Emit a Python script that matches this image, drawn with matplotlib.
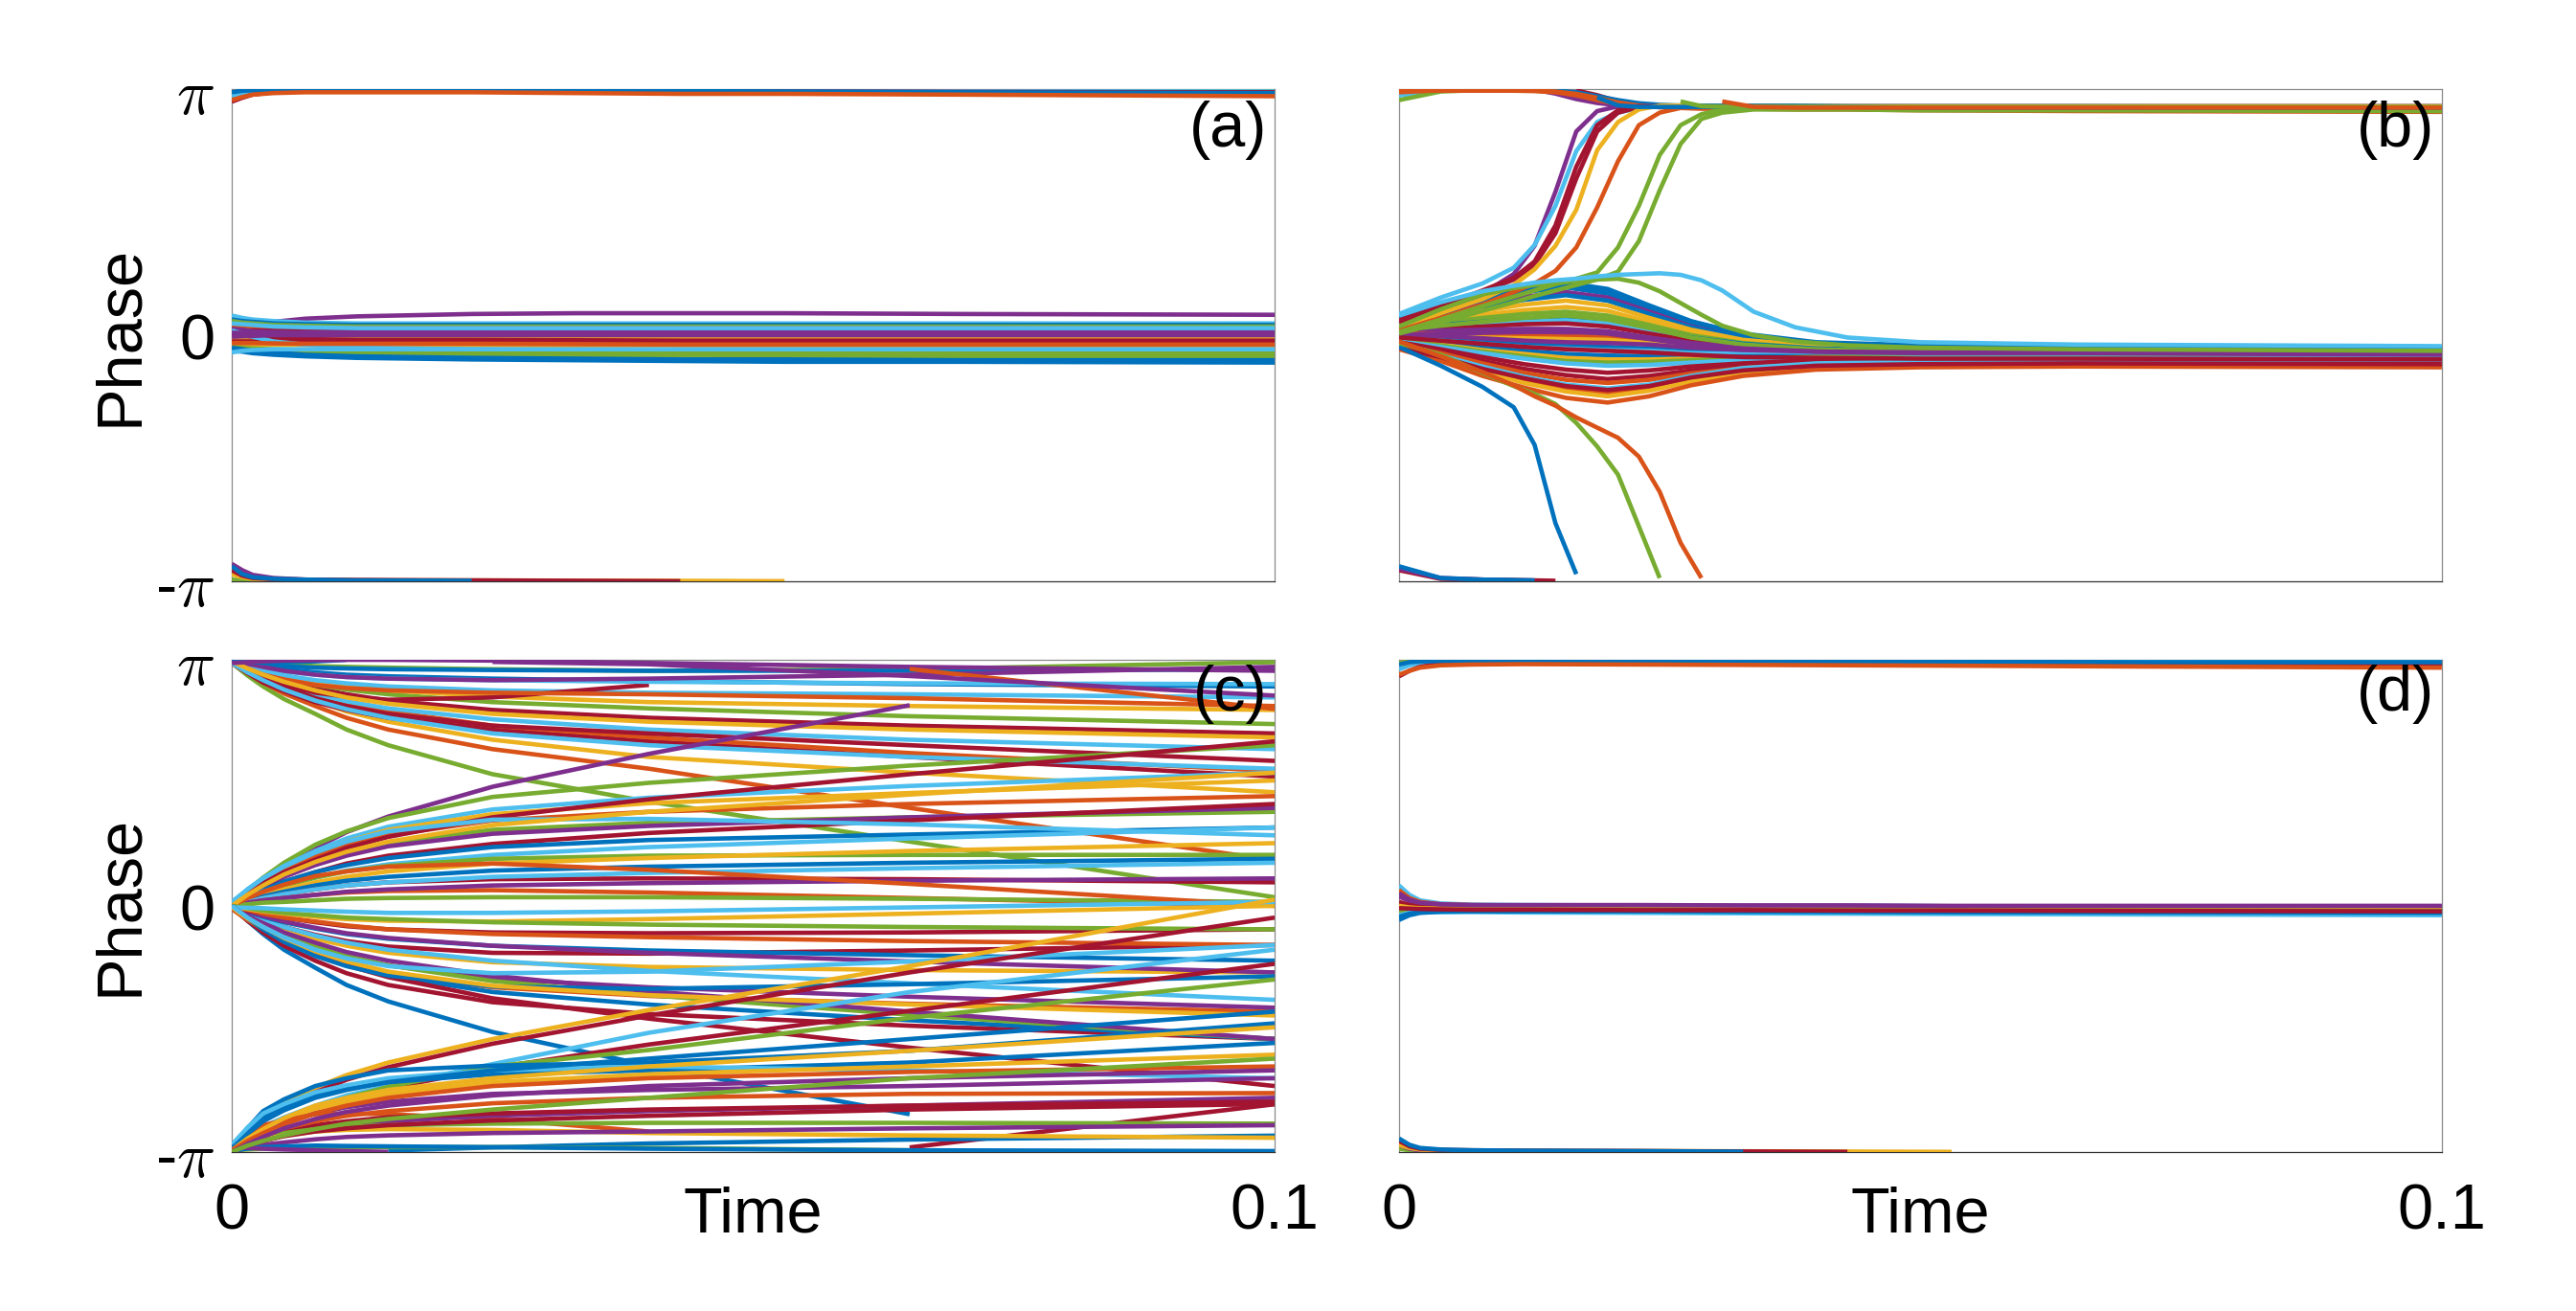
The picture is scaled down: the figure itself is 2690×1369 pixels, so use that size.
import numpy as np
import matplotlib
matplotlib.use("Agg")
import matplotlib.pyplot as plt

plt.rcParams['font.family'] = ['Liberation Sans', 'DejaVu Sans']
plt.rcParams['mathtext.fontset'] = 'cm'

# MATLAB default colour order: 0 blue, 1 orange, 2 yellow, 3 purple, 4 green, 5 light blue, 6 red
COLORS = ['#0072BD', '#D95319', '#EDB120', '#7E2F8E', '#77AC30', '#4DBEEE', '#A2142F']

PANEL_LABELS = ['(a)', '(b)', '(c)', '(d)']
X_TICKS = [0, 0.1]
X_TICKLABELS = ['0', '0.1']
Y_TICKS = [-np.pi, 0, np.pi]
Y_TICKLABELS = ['-$\\pi$', '0', '$\\pi$']
X_LABEL = 'Time'
Y_LABEL = 'Phase'

# ---------------- panel (a) ----------------
T_A = [0, 0.001, 0.002, 0.004, 0.007, 0.012, 0.023, 0.033, 0.043, 0.053, 0.07, 0.1]
A_PHASES = [
    [0.10, 0.12, 0.14, 0.17, 0.21, 0.24, 0.27, 0.28, 0.28, 0.28, 0.27, 0.26],
    [0.25, 0.22, 0.20, 0.18, 0.16, 0.15, 0.15, 0.15, 0.15, 0.15, 0.15, 0.15],
    [0.20, 0.18, 0.17, 0.15, 0.14, 0.13, 0.13, 0.13, 0.13, 0.13, 0.13, 0.13],
    [0.18, 0.16, 0.15, 0.13, 0.12, 0.11, 0.11, 0.11, 0.11, 0.11, 0.11, 0.11],
    [0.12, 0.11, 0.10, 0.09, 0.09, 0.09, 0.09, 0.09, 0.09, 0.09, 0.09, 0.08],
    [0.05, 0.05, 0.06, 0.06, 0.07, 0.07, 0.07, 0.07, 0.07, 0.07, 0.06, 0.06],
    [0.00, 0.01, 0.02, 0.03, 0.035, 0.04, 0.04, 0.04, 0.04, 0.04, 0.04, 0.04],
    [0.08, 0.07, 0.05, 0.04, 0.03, 0.02, 0.02, 0.02, 0.02, 0.01, 0.01, 0.01],
    [-0.05, -0.045, -0.04, -0.035, -0.03, -0.03, -0.03, -0.03, -0.03, -0.03, -0.03, -0.03],
    [0.02, 0.0, -0.02, -0.04, -0.05, -0.06, -0.06, -0.065, -0.07, -0.07, -0.07, -0.07],
    [-0.08, -0.08, -0.08, -0.085, -0.09, -0.09, -0.09, -0.09, -0.095, -0.1, -0.1, -0.1],
    [-0.12, -0.12, -0.12, -0.12, -0.125, -0.13, -0.13, -0.135, -0.14, -0.14, -0.14, -0.14],
    [0.06, 0.02, -0.02, -0.08, -0.12, -0.16, -0.18, -0.19, -0.19, -0.2, -0.2, -0.2],
    [-0.15, -0.16, -0.17, -0.18, -0.19, -0.2, -0.21, -0.22, -0.22, -0.22, -0.23, -0.23],
    [-0.18, -0.19, -0.2, -0.21, -0.22, -0.24, -0.25, -0.26, -0.26, -0.27, -0.27, -0.28],
    [-0.16, -0.18, -0.2, -0.22, -0.25, -0.27, -0.29, -0.3, -0.31, -0.31, -0.32, -0.32],
    [-0.2, -0.21, -0.23, -0.25, -0.27, -0.29, -0.31, -0.32, -0.33, -0.34, -0.34, -0.35],
    [-0.1, -0.1, -0.1, -0.105, -0.11, -0.11, -0.11, -0.115, -0.12, -0.12, -0.12, -0.12],
    [0.15, 0.14, 0.13, 0.11, 0.10, 0.09, 0.09, 0.09, 0.09, 0.09, 0.09, 0.09],
    [-0.02, -0.015, -0.01, 0.0, 0.0, 0.0, 0.0, 0.0, 0.0, 0.0, 0.0, 0.0],
    [0.03, 0.03, 0.02, 0.02, 0.02, 0.02, 0.02, 0.02, 0.02, 0.02, 0.02, 0.02],
    [-0.22, -0.2, -0.19, -0.18, -0.18, -0.18, -0.18, -0.18, -0.18, -0.18, -0.18, -0.18],
    # lines near -pi (drift through -pi and re-enter at +pi)
    [-3.12, -3.13, -3.135, -3.14, -3.145, -3.15, -3.155, -3.16, -3.16, -3.165, -3.17, -3.18],
    [-2.97, -3.05, -3.09, -3.12, -3.13, -3.14, -3.15, -3.16, -3.17, -3.175, -3.18, -3.19],
    [-2.92, -3.0, -3.06, -3.1, -3.12, -3.13, -3.14, -3.145, -3.15, -3.155, -3.16, -3.17],
    [-3.05, -3.09, -3.11, -3.12, -3.125, -3.128, -3.13, -3.133, -3.136, -3.14, -3.145, -3.16],
    [-3.0, -3.07, -3.1, -3.115, -3.12, -3.125, -3.13, -3.135, -3.14, -3.145, -3.155, -3.17],
    [-2.95, -3.05, -3.09, -3.11, -3.12, -3.13, -3.135, -3.15, -3.16, -3.17, -3.18, -3.2],
    # lines near +pi
    [3.08, 3.11, 3.13, 3.135, 3.135, 3.135, 3.135, 3.135, 3.13, 3.13, 3.13, 3.13],
    [3.05, 3.09, 3.11, 3.12, 3.125, 3.125, 3.125, 3.12, 3.12, 3.12, 3.115, 3.11],
    [2.98, 3.03, 3.07, 3.1, 3.11, 3.115, 3.115, 3.115, 3.11, 3.11, 3.105, 3.1],
    [3.1, 3.12, 3.125, 3.13, 3.13, 3.13, 3.125, 3.12, 3.115, 3.11, 3.1, 3.09],
    [3.0, 3.04, 3.07, 3.09, 3.1, 3.1, 3.1, 3.09, 3.08, 3.08, 3.07, 3.05],
]
A_COLORS = [3, 5, 0, 4, 1, 6, 3, 3, 2, 6, 6, 2, 5, 4, 4, 0, 0, 1, 5, 3, 3, 5,
            4, 1, 3, 2, 6, 0,
            4, 5, 6, 0, 1]

# ---------------- panel (b) ----------------
T_B_MAIN = [0, 0.004, 0.008, 0.012, 0.016, 0.02, 0.024, 0.028, 0.033, 0.04, 0.05, 0.065, 0.1]
B_MAIN_PHASES = [
    [0.2, 0.34, 0.48, 0.60, 0.67, 0.59, 0.38, 0.18, 0.01, -0.10, -0.14, -0.15, -0.17],
    [0.18, 0.31, 0.44, 0.55, 0.61, 0.53, 0.34, 0.15, -0.01, -0.11, -0.15, -0.16, -0.18],
    [0.15, 0.27, 0.39, 0.49, 0.55, 0.48, 0.30, 0.12, -0.03, -0.13, -0.16, -0.17, -0.19],
    [0.14, 0.25, 0.36, 0.45, 0.51, 0.44, 0.27, 0.10, -0.03, -0.13, -0.16, -0.17, -0.19],
    [0.12, 0.22, 0.31, 0.39, 0.44, 0.38, 0.22, 0.07, -0.06, -0.14, -0.17, -0.18, -0.2],
    [0.1, 0.18, 0.26, 0.32, 0.36, 0.31, 0.17, 0.03, -0.08, -0.16, -0.18, -0.19, -0.21],
    [0.1, 0.16, 0.22, 0.27, 0.30, 0.25, 0.13, 0.0, -0.1, -0.17, -0.2, -0.2, -0.22],
    [0.08, 0.13, 0.17, 0.21, 0.23, 0.19, 0.08, -0.03, -0.11, -0.17, -0.2, -0.2, -0.22],
    [0.07, 0.11, 0.14, 0.17, 0.19, 0.15, 0.05, -0.05, -0.13, -0.19, -0.21, -0.21, -0.23],
    [0.05, 0.08, 0.11, 0.14, 0.15, 0.11, 0.02, -0.07, -0.15, -0.2, -0.22, -0.22, -0.24],
    [0.05, 0.06, 0.07, 0.08, 0.08, 0.05, -0.03, -0.1, -0.16, -0.2, -0.22, -0.22, -0.24],
    [0.03, 0.03, 0.02, 0.02, 0.02, -0.005, -0.07, -0.13, -0.18, -0.22, -0.23, -0.23, -0.25],
    [0.02, 0.01, 0.0, -0.01, -0.02, -0.02, -0.06, -0.13, -0.19, -0.22, -0.24, -0.24, -0.26],
    [0.0, -0.01, -0.03, -0.04, -0.05, -0.06, -0.10, -0.15, -0.2, -0.23, -0.24, -0.24, -0.26],
    [-0.02, -0.05, -0.08, -0.11, -0.13, -0.15, -0.17, -0.2, -0.23, -0.24, -0.25, -0.25, -0.27],
    [-0.04, -0.07, -0.11, -0.15, -0.17, -0.19, -0.2, -0.23, -0.24, -0.25, -0.26, -0.26, -0.27],
    [-0.05, -0.1, -0.16, -0.2, -0.24, -0.26, -0.27, -0.27, -0.27, -0.27, -0.27, -0.27, -0.28],
    [-0.06, -0.12, -0.19, -0.24, -0.29, -0.31, -0.31, -0.3, -0.29, -0.28, -0.28, -0.28, -0.29],
    [-0.07, -0.13, -0.21, -0.27, -0.33, -0.35, -0.34, -0.32, -0.3, -0.29, -0.28, -0.28, -0.29],
    [-0.08, -0.15, -0.23, -0.3, -0.36, -0.39, -0.38, -0.35, -0.32, -0.3, -0.29, -0.29, -0.3],
    [-0.09, -0.18, -0.28, -0.37, -0.44, -0.48, -0.45, -0.4, -0.36, -0.32, -0.31, -0.31, -0.32],
    [-0.1, -0.2, -0.33, -0.43, -0.51, -0.56, -0.52, -0.45, -0.39, -0.35, -0.33, -0.33, -0.34],
    [-0.12, -0.23, -0.36, -0.48, -0.57, -0.61, -0.57, -0.49, -0.42, -0.37, -0.36, -0.35, -0.36],
    [-0.13, -0.26, -0.4, -0.53, -0.63, -0.68, -0.63, -0.52, -0.42, -0.36, -0.34, -0.33, -0.34],
    [-0.14, -0.28, -0.44, -0.57, -0.69, -0.74, -0.68, -0.57, -0.48, -0.41, -0.39, -0.38, -0.39],
    [-0.15, -0.29, -0.46, -0.61, -0.72, -0.78, -0.71, -0.59, -0.48, -0.4, -0.38, -0.37, -0.38],
    [-0.18, -0.33, -0.52, -0.67, -0.8, -0.86, -0.78, -0.64, -0.52, -0.44, -0.41, -0.4, -0.41],
    [-0.16, -0.28, -0.43, -0.55, -0.65, -0.70, -0.65, -0.54, -0.45, -0.39, -0.37, -0.36, -0.37],
    [0.06, 0.12, 0.17, 0.22, 0.25, 0.20, 0.09, -0.03, -0.12, -0.18, -0.21, -0.21, -0.24],
    [0.0, 0.015, 0.03, 0.04, 0.05, 0.02, -0.05, -0.12, -0.17, -0.21, -0.23, -0.23, -0.25],
    [0.22, 0.35, 0.47, 0.58, 0.64, 0.56, 0.37, 0.17, 0.02, -0.09, -0.13, -0.14, -0.16],
    [0.01, -0.01, -0.04, -0.07, -0.09, -0.1, -0.12, -0.16, -0.19, -0.21, -0.22, -0.22, -0.24],
    [-0.03, -0.07, -0.11, -0.15, -0.18, -0.2, -0.22, -0.25, -0.28, -0.29, -0.3, -0.3, -0.31],
]
B_MAIN_COLORS = [0, 0, 3, 0, 2, 2, 4, 0, 5, 6, 3, 3, 1, 2, 0, 5, 0, 2, 4, 5, 6, 6, 1, 5, 1, 2,
                 1, 6, 4, 3, 0, 3, 6]

T_B_FAST = [0, 0.004, 0.008, 0.011, 0.013, 0.015, 0.017, 0.019, 0.021, 0.023,
            0.025, 0.027, 0.029, 0.031, 0.034, 0.038, 0.043, 0.05, 0.065, 0.1]
B_FAST_PHASES = [
    # lines near -pi at the start (cross -pi and join the upper group)
    [-3.0, -3.11, -3.12, -3.125, -3.13, -3.135, -3.16, -3.22, -3.3, -3.34, -3.36, -3.36, -3.36, -3.36, -3.36, -3.36, -3.36, -3.36, -3.36, -3.36],
    [-2.98, -3.1, -3.12, -3.13, -3.15, -3.2, -3.27, -3.32, -3.35, -3.36, -3.36, -3.37, -3.37, -3.37, -3.37, -3.37, -3.37, -3.37, -3.37, -3.37],
    [-2.95, -3.1, -3.12, -3.125, -3.13, -3.15, -3.2, -3.27, -3.32, -3.35, -3.36, -3.37, -3.37, -3.37, -3.37, -3.37, -3.37, -3.37, -3.37, -3.37],
    # lines near +pi at the start
    [3.06, 3.12, 3.13, 3.13, 3.125, 3.11, 3.07, 3.02, 2.97, 2.94, 2.93, 2.93, 2.93, 2.92, 2.92, 2.92, 2.92, 2.92, 2.92, 2.92],
    [3.0, 3.11, 3.13, 3.135, 3.13, 3.12, 3.09, 3.04, 2.99, 2.95, 2.93, 2.92, 2.92, 2.92, 2.92, 2.92, 2.91, 2.91, 2.91, 2.9],
    [3.13, 3.13, 3.13, 3.13, 3.13, 3.12, 3.1, 3.05, 3.0, 2.96, 2.94, 2.93, 2.93, 2.93, 2.93, 2.93, 2.92, 2.92, 2.92, 2.91],
    [3.1, 3.125, 3.13, 3.13, 3.12, 3.11, 3.08, 3.03, 2.97, 2.93, 2.91, 2.9, 2.89, 2.89, 2.89, 2.88, 2.88, 2.87, 2.86, 2.85],
    [3.12, 3.12, 3.12, 3.12, 3.115, 3.1, 3.06, 3.0, 2.95, 2.92, 2.91, 2.9, 2.9, 2.9, 2.9, 2.89, 2.89, 2.88, 2.87, 2.86],
    # lines leaving the cluster upwards
    [0.06, 0.30, 0.53, 0.78, 1.14, 1.83, 2.6, 2.86, 2.92, 2.92, 2.92, 2.91, 2.91, 2.91, 2.91, 2.91, 2.9, 2.9, 2.9, 2.9],
    [0.27, 0.48, 0.66, 0.86, 1.15, 1.65, 2.35, 2.72, 2.84, 2.9, 2.92, 2.92, 2.91, 2.91, 2.91, 2.91, 2.9, 2.9, 2.9, 2.89],
    [0.19, 0.37, 0.57, 0.73, 0.94, 1.4, 2.15, 2.68, 2.87, 2.92, 2.92, 2.92, 2.91, 2.91, 2.91, 2.91, 2.9, 2.9, 2.9, 2.9],
    [0.17, 0.35, 0.55, 0.71, 0.9, 1.3, 2.0, 2.6, 2.84, 2.91, 2.92, 2.92, 2.91, 2.91, 2.91, 2.9, 2.9, 2.9, 2.9, 2.9],
    [0.11, 0.28, 0.46, 0.64, 0.84, 1.14, 1.6, 2.36, 2.72, 2.88, 2.93, 2.93, 2.92, 2.92, 2.92, 2.92, 2.92, 2.92, 2.92, 2.92],
    [0.06, 0.22, 0.39, 0.55, 0.66, 0.82, 1.12, 1.63, 2.22, 2.68, 2.84, 2.9, 2.9, 2.9, 2.9, 2.89, 2.89, 2.89, 2.88, 2.88],
    [0.04, 0.2, 0.37, 0.49, 0.57, 0.65, 0.72, 0.8, 1.12, 1.65, 2.3, 2.68, 2.82, 2.88, 2.9, 2.9, 2.9, 2.89, 2.89, 2.88],
    [0.02, 0.16, 0.31, 0.42, 0.5, 0.57, 0.64, 0.71, 0.81, 1.2, 1.85, 2.44, 2.76, 2.84, 2.88, 2.88, 2.88, 2.87, 2.87, 2.86],
    # late returners
    [0.11, 0.33, 0.52, 0.60, 0.64, 0.66, 0.69, 0.71, 0.72, 0.67, 0.56, 0.41, 0.26, 0.12, 0.0, -0.08, -0.13, -0.16, -0.18, -0.2],
    [0.25, 0.42, 0.56, 0.63, 0.67, 0.70, 0.72, 0.75, 0.77, 0.78, 0.79, 0.77, 0.70, 0.57, 0.30, 0.10, -0.03, -0.09, -0.12, -0.14],
    # lines leaving the cluster downwards (cross -pi)
    [-0.15, -0.39, -0.66, -0.92, -1.4, -2.4, -3.05, -3.25, -3.35, -3.37, -3.37, -3.37, -3.37, -3.37, -3.37, -3.37, -3.37, -3.38, -3.38, -3.38],
    [-0.1, -0.25, -0.48, -0.65, -0.75, -0.88, -1.12, -1.42, -1.78, -2.44, -3.1, -3.3, -3.36, -3.37, -3.37, -3.37, -3.37, -3.37, -3.37, -3.37],
    [-0.08, -0.27, -0.47, -0.64, -0.78, -0.9, -1.05, -1.18, -1.31, -1.55, -2.0, -2.65, -3.1, -3.3, -3.37, -3.38, -3.38, -3.38, -3.38, -3.38],
]
B_FAST_COLORS = [6, 3, 0,
                 5, 4, 0, 1, 1,
                 3, 5, 6, 6, 2, 1, 4, 4,
                 4, 5,
                 0, 4, 1]

# ---------------- panel (c) ----------------
T_C = [0, 0.0015, 0.003, 0.005, 0.008, 0.011, 0.015, 0.025, 0.04, 0.065, 0.1]
C_PHASES = [
    # starting at +pi
    [3.1, 2.94, 2.8, 2.64, 2.45, 2.25, 2.05, 1.68, 1.33, 0.82, 0.11],
    [3.1, 2.97, 2.85, 2.71, 2.55, 2.4, 2.25, 2.0, 1.75, 1.25, 0.58],
    [3.12, 3.0, 2.9, 2.77, 2.62, 2.48, 2.35, 2.12, 1.9, 1.7, 1.45],
    [3.1, 2.97, 2.85, 2.74, 2.6, 2.5, 2.4, 2.25, 2.1, 1.9, 1.65],
    [3.12, 3.01, 2.92, 2.82, 2.7, 2.59, 2.48, 2.3, 2.15, 1.95, 1.72],
    [3.1, 2.99, 2.9, 2.81, 2.7, 2.61, 2.52, 2.38, 2.25, 2.12, 2.0],
    [3.1, 3.02, 2.95, 2.87, 2.78, 2.7, 2.62, 2.5, 2.4, 2.3, 2.2],
    [3.12, 3.04, 2.98, 2.91, 2.82, 2.76, 2.7, 2.6, 2.52, 2.42, 2.32],
    [3.12, 3.06, 3.0, 2.94, 2.86, 2.8, 2.75, 2.67, 2.6, 2.55, 2.5],
    [3.12, 3.06, 3.0, 2.94, 2.88, 2.84, 2.8, 2.75, 2.72, 2.7, 2.66],
    [3.12, 3.08, 3.05, 3.02, 2.98, 2.95, 2.93, 2.9, 2.87, 2.83, 2.8],
    [3.1, 2.99, 2.9, 2.82, 2.72, 2.67, 2.63, 2.66, 2.82, 3.2, 3.75],
    [3.14, 3.12, 3.1, 3.08, 3.06, 3.05, 3.04, 3.02, 3.0, 3.02, 3.11],
    [3.12, 3.07, 3.02, 2.99, 2.95, 2.92, 2.9, 2.88, 2.86, 2.84, 2.83],
    [3.13, 3.1, 3.08, 3.06, 3.04, 3.03, 3.02, 3.01, 3.0, 3.0, 3.02],
    [3.12, 3.03, 2.95, 2.89, 2.82, 2.78, 2.75, 2.72, 2.7, 2.65, 2.55],
    [3.14, 3.09, 3.05, 3.0, 2.95, 2.92, 2.9, 2.88, 2.9, 2.95, 3.05],
    [3.12, 3.0, 2.9, 2.79, 2.65, 2.55, 2.45, 2.3, 2.2, 2.05, 1.85],
    [3.1, 2.98, 2.88, 2.76, 2.62, 2.51, 2.4, 2.2, 2.05, 1.9, 1.75],
    [3.12, 3.03, 2.95, 2.86, 2.75, 2.66, 2.58, 2.45, 2.35, 2.25, 2.15],
    [3.14, 3.12, 3.1, 3.11, 3.12, 3.14, 3.16, 3.2, 3.25, 3.3, 3.35],
    [3.1, 3.11, 3.12, 3.13, 3.135, 3.14, 3.14, 3.13, 3.1, 3.05, 3.0],
    # starting at 0, moving up
    [0.0, 0.18, 0.33, 0.52, 0.74, 0.94, 1.14, 1.52, 1.94, 2.56, 3.4],
    [0.02, 0.2, 0.36, 0.55, 0.78, 0.95, 1.12, 1.39, 1.57, 1.79, 2.05],
    [0.05, 0.21, 0.35, 0.51, 0.70, 0.86, 1.01, 1.23, 1.38, 1.53, 1.7],
    [0.03, 0.19, 0.32, 0.48, 0.67, 0.82, 0.97, 1.17, 1.31, 1.44, 1.6],
    [0.0, 0.16, 0.30, 0.45, 0.63, 0.77, 0.90, 1.09, 1.2, 1.3, 1.4],
    [0.04, 0.17, 0.29, 0.42, 0.57, 0.69, 0.81, 0.97, 1.06, 1.13, 1.2],
    [0.0, 0.13, 0.24, 0.37, 0.52, 0.64, 0.76, 0.92, 1.02, 1.13, 1.25],
    [0.02, 0.12, 0.21, 0.31, 0.43, 0.54, 0.64, 0.79, 0.93, 1.09, 1.3],
    [0.0, 0.11, 0.2, 0.31, 0.43, 0.52, 0.61, 0.75, 0.84, 0.91, 1.0],
    [0.03, 0.11, 0.18, 0.26, 0.36, 0.45, 0.53, 0.65, 0.75, 0.86, 1.0],
    [0.0, 0.09, 0.17, 0.26, 0.36, 0.44, 0.51, 0.6, 0.64, 0.65, 0.65],
    [0.01, 0.08, 0.14, 0.21, 0.30, 0.37, 0.44, 0.54, 0.61, 0.70, 0.80],
    [0.0, 0.06, 0.12, 0.18, 0.26, 0.32, 0.37, 0.45, 0.50, 0.55, 0.60],
    [0.02, 0.06, 0.1, 0.15, 0.21, 0.26, 0.30, 0.34, 0.35, 0.34, 0.30],
    [0.0, 0.05, 0.1, 0.15, 0.21, 0.26, 0.30, 0.37, 0.42, 0.48, 0.55],
    [0.01, 0.04, 0.07, 0.1, 0.14, 0.17, 0.19, 0.2, 0.17, 0.1, 0.0],
    [0.0, 0.04, 0.07, 0.1, 0.14, 0.18, 0.21, 0.26, 0.29, 0.32, 0.35],
    [0.0, 0.02, 0.04, 0.05, 0.07, 0.09, 0.10, 0.11, 0.11, 0.09, 0.05],
    [0.03, 0.17, 0.29, 0.43, 0.59, 0.74, 0.88, 1.13, 1.36, 1.68, 2.1],
    [0.0, 0.1, 0.18, 0.27, 0.38, 0.44, 0.5, 0.54, 0.46, 0.28, 0.0],
    [0.04, 0.21, 0.35, 0.5, 0.68, 0.82, 0.95, 1.1, 1.11, 1.04, 0.9],
    [0.0, 0.14, 0.26, 0.4, 0.56, 0.69, 0.82, 1.03, 1.2, 1.42, 1.7],
    # starting at 0, moving down
    [0.0, -0.19, -0.36, -0.56, -0.79, -1.01, -1.22, -1.61, -2.04, -2.66, -3.5],
    [-0.02, -0.19, -0.34, -0.51, -0.7, -0.86, -1.01, -1.23, -1.38, -1.53, -1.7],
    [0.0, -0.15, -0.28, -0.43, -0.61, -0.75, -0.89, -1.1, -1.26, -1.46, -1.7],
    [-0.04, -0.18, -0.3, -0.44, -0.6, -0.73, -0.86, -1.04, -1.15, -1.25, -1.35],
    [0.0, -0.14, -0.25, -0.38, -0.53, -0.65, -0.76, -0.93, -1.04, -1.16, -1.3],
    [-0.02, -0.14, -0.24, -0.36, -0.51, -0.64, -0.76, -0.96, -1.14, -1.39, -1.7],
    [0.0, -0.11, -0.2, -0.3, -0.42, -0.51, -0.6, -0.72, -0.78, -0.82, -0.85],
    [-0.03, -0.12, -0.19, -0.27, -0.37, -0.45, -0.52, -0.6, -0.61, -0.57, -0.5],
    [0.0, -0.09, -0.17, -0.27, -0.38, -0.47, -0.56, -0.7, -0.83, -0.99, -1.2],
    [-0.01, -0.08, -0.14, -0.21, -0.29, -0.36, -0.42, -0.51, -0.57, -0.63, -0.7],
    [0.0, -0.07, -0.13, -0.2, -0.28, -0.35, -0.41, -0.51, -0.6, -0.71, -0.85],
    [-0.02, -0.06, -0.1, -0.15, -0.21, -0.26, -0.30, -0.34, -0.35, -0.34, -0.3],
    [0.0, -0.05, -0.1, -0.15, -0.2, -0.25, -0.3, -0.36, -0.4, -0.45, -0.5],
    [-0.01, -0.04, -0.07, -0.1, -0.14, -0.17, -0.19, -0.2, -0.17, -0.1, 0.0],
    [0.0, -0.03, -0.06, -0.09, -0.12, -0.15, -0.17, -0.21, -0.24, -0.27, -0.3],
    [-0.02, -0.025, -0.03, -0.045, -0.06, -0.075, -0.09, -0.09, -0.07, -0.02, 0.05],
    [0.0, -0.15, -0.28, -0.43, -0.61, -0.76, -0.91, -1.18, -1.44, -1.81, -2.3],
    [-0.03, -0.13, -0.22, -0.34, -0.47, -0.59, -0.7, -0.89, -1.09, -1.35, -1.7],
    [0.0, -0.16, -0.30, -0.46, -0.64, -0.77, -0.89, -1.03, -1.06, -1.0, -0.9],
    [-0.02, -0.16, -0.27, -0.41, -0.58, -0.71, -0.84, -1.02, -1.14, -1.26, -1.4],
    [0.0, -0.15, -0.27, -0.4, -0.56, -0.67, -0.77, -0.86, -0.84, -0.71, -0.5],
    # starting at -pi
    [-3.05, -2.86, -2.7, -2.53, -2.32, -2.16, -2.0, -1.7, -1.33, -0.77, 0.08],
    [-3.1, -2.91, -2.75, -2.58, -2.38, -2.22, -2.06, -1.76, -1.4, -0.85, -0.15],
    [-3.1, -2.95, -2.82, -2.7, -2.55, -2.42, -2.3, -2.02, -1.62, -1.1, -0.56],
    [-3.14, -3.02, -2.91, -2.77, -2.61, -2.47, -2.33, -2.07, -1.77, -1.34, -0.74],
    [-3.14, -3.0, -2.88, -2.75, -2.59, -2.45, -2.31, -2.05, -1.84, -1.43, -0.94],
    [-3.1, -2.84, -2.62, -2.47, -2.3, -2.2, -2.1, -2.04, -2.0, -1.85, -1.5],
    [-3.12, -2.89, -2.7, -2.57, -2.42, -2.33, -2.25, -2.15, -2.1, -2.0, -1.75],
    [-3.05, -2.83, -2.65, -2.53, -2.38, -2.29, -2.2, -2.1, -2.05, -2.1, -2.2],
    [-3.1, -2.97, -2.85, -2.73, -2.6, -2.5, -2.4, -2.25, -2.15, -2.05, -1.9],
    [-3.12, -3.0, -2.9, -2.78, -2.65, -2.57, -2.5, -2.4, -2.35, -2.3, -2.2],
    [-3.1, -2.94, -2.8, -2.74, -2.66, -2.65, -2.66, -2.72, -2.88, -3.26, -3.77],
    [-3.14, -3.06, -3.0, -2.93, -2.85, -2.8, -2.75, -2.68, -2.62, -2.55, -2.45],
    [-3.14, -3.04, -2.95, -2.88, -2.8, -2.75, -2.7, -2.65, -2.6, -2.55, -2.5],
    [-3.12, -3.11, -3.1, -3.095, -3.09, -3.085, -3.08, -3.08, -3.09, -3.12, -3.16],
    [-3.1, -3.02, -2.95, -2.9, -2.85, -2.82, -2.8, -2.78, -2.77, -2.77, -2.78],
    [-3.12, -3.04, -2.98, -2.93, -2.88, -2.86, -2.85, -2.86, -2.9, -2.93, -2.96],
    [-3.14, -3.09, -3.05, -3.02, -2.98, -2.95, -2.93, -2.9, -2.88, -2.84, -2.8],
    [-3.13, -3.02, -2.92, -2.84, -2.75, -2.68, -2.62, -2.52, -2.45, -2.4, -2.39],
    [-3.14, -3.06, -3.0, -2.94, -2.88, -2.84, -2.8, -2.74, -2.68, -2.6, -2.53],
    [-3.12, -3.1, -3.08, -3.07, -3.06, -3.065, -3.07, -3.08, -3.1, -3.12, -3.13],
    [-3.08, -3.09, -3.1, -3.11, -3.12, -3.13, -3.14, -3.17, -3.2, -3.35, -3.6],
    [-3.1, -2.91, -2.75, -2.61, -2.45, -2.35, -2.25, -2.1, -1.95, -1.7, -1.35],
    [-3.12, -2.97, -2.85, -2.71, -2.55, -2.45, -2.35, -2.2, -2.05, -1.85, -1.55],
    [-3.12, -3.0, -2.9, -2.79, -2.65, -2.55, -2.45, -2.3, -2.2, -2.12, -2.05],
    [-3.14, -3.04, -2.95, -2.84, -2.72, -2.63, -2.55, -2.42, -2.3, -2.2, -2.1],
    [-3.14, -3.06, -3.0, -2.93, -2.85, -2.78, -2.72, -2.6, -2.45, -2.2, -1.95],
]
C_COLORS = [4, 1, 2, 6, 1, 5, 6, 4, 2, 5, 0, 6, 4, 5, 0, 1, 3, 6, 5, 2, 0, 3,
            3, 4, 5, 2, 1, 4, 3, 6, 0, 5, 4, 2, 0, 6, 5, 1, 3, 4, 6, 1, 5, 2,
            0, 6, 0, 1, 3, 4, 2, 6, 5, 0, 3, 6, 1, 2, 4, 5, 6, 3, 0, 2, 5,
            2, 6, 5, 6, 4, 0, 0, 5, 2, 3, 1, 3, 6, 4, 4, 2, 3, 1, 6, 0, 3, 0, 2, 1, 3, 4]

# ---------------- panel (d) ----------------
T_D = [0, 0.001, 0.002, 0.004, 0.007, 0.012, 0.023, 0.033, 0.043, 0.053, 0.07, 0.1]
D_PHASES = [
    [0.26, 0.14, 0.07, 0.03, 0.015, 0.01, 0.005, 0.0, 0.0, -0.005, -0.005, -0.01],
    [0.2, 0.1, 0.05, 0.02, 0.01, 0.005, 0.0, -0.005, -0.01, -0.01, -0.015, -0.02],
    [0.12, 0.06, 0.03, 0.01, 0.005, 0.0, 0.0, 0.0, 0.0, -0.005, -0.005, -0.01],
    [0.05, 0.01, -0.01, -0.025, -0.03, -0.03, -0.03, -0.035, -0.035, -0.04, -0.04, -0.045],
    [0.0, -0.02, -0.03, -0.035, -0.035, -0.035, -0.04, -0.04, -0.045, -0.045, -0.05, -0.05],
    [-0.08, -0.065, -0.055, -0.05, -0.05, -0.05, -0.05, -0.055, -0.055, -0.06, -0.06, -0.065],
    [-0.12, -0.09, -0.08, -0.08, -0.08, -0.085, -0.09, -0.095, -0.1, -0.105, -0.11, -0.12],
    [-0.18, -0.12, -0.09, -0.075, -0.07, -0.07, -0.07, -0.075, -0.075, -0.08, -0.085, -0.09],
    [-0.14, -0.1, -0.08, -0.07, -0.065, -0.065, -0.07, -0.07, -0.075, -0.08, -0.08, -0.085],
    [0.16, 0.08, 0.04, 0.02, 0.01, 0.01, 0.01, 0.005, 0.005, 0.0, 0.0, 0.0],
    [-0.03, -0.035, -0.04, -0.045, -0.05, -0.05, -0.055, -0.055, -0.06, -0.06, -0.065, -0.07],
    # near -pi
    [-3.1, -3.12, -3.13, -3.14, -3.145, -3.15, -3.155, -3.16, -3.16, -3.165, -3.17, -3.18],
    [-3.05, -3.1, -3.12, -3.14, -3.15, -3.155, -3.16, -3.165, -3.17, -3.17, -3.175, -3.18],
    [-2.98, -3.06, -3.1, -3.12, -3.13, -3.14, -3.15, -3.16, -3.165, -3.17, -3.175, -3.18],
    [-3.05, -3.09, -3.11, -3.12, -3.125, -3.128, -3.13, -3.133, -3.136, -3.14, -3.145, -3.16],
    [-3.0, -3.07, -3.1, -3.115, -3.12, -3.125, -3.13, -3.135, -3.14, -3.145, -3.155, -3.17],
    [-2.97, -3.05, -3.09, -3.11, -3.12, -3.125, -3.13, -3.138, -3.145, -3.15, -3.16, -3.18],
    # near +pi
    [3.1, 3.12, 3.13, 3.135, 3.14, 3.14, 3.14, 3.14, 3.14, 3.14, 3.14, 3.14],
    [3.02, 3.07, 3.1, 3.12, 3.125, 3.13, 3.13, 3.13, 3.13, 3.13, 3.13, 3.13],
    [2.93, 3.0, 3.05, 3.09, 3.1, 3.1, 3.1, 3.1, 3.1, 3.1, 3.09, 3.08],
    [3.08, 3.11, 3.12, 3.125, 3.125, 3.125, 3.12, 3.12, 3.115, 3.115, 3.11, 3.11],
    [2.95, 3.0, 3.04, 3.07, 3.08, 3.085, 3.08, 3.075, 3.07, 3.065, 3.055, 3.04],
]
D_COLORS = [5, 1, 3, 6, 2, 4, 5, 0, 0, 3, 6,
            4, 3, 1, 2, 6, 0,
            4, 5, 6, 0, 1]

FS = 48
LW = 3.3
PX = 0.72  # points per pixel at 100 dpi


def wrapped(t, phi):
    t = np.asarray(t, dtype=float)
    p = (np.asarray(phi, dtype=float) + np.pi) % (2 * np.pi) - np.pi
    jumps = np.where(np.abs(np.diff(p)) > np.pi)[0] + 1
    return np.insert(t, jumps, np.nan), np.insert(p, jumps, np.nan)


def draw_lines(ax, t, lines, colors):
    for vals, ci in zip(lines, colors):
        tt, pp = wrapped(t, vals)
        ax.plot(tt, pp, color=COLORS[ci], lw=LW, solid_capstyle='butt',
                solid_joinstyle='round', zorder=3)


def style_axes(ax, label, left, bottom, top_panel):
    ax.set_xlim(X_TICKS[0], X_TICKS[-1])
    ax.set_ylim(Y_TICKS[0], Y_TICKS[-1])
    ax.set_xticks([])
    ax.set_yticks([])
    for side, sp in ax.spines.items():
        sp.set_linewidth(0.9)
        sp.set_color('#333333' if side == 'bottom' else '#8a8a8a')
        sp.set_zorder(2)
    lab_dy = -60 if top_panel else -53
    ax.annotate(label, xy=(1, 1), xycoords='axes fraction', xytext=(-8 * PX, lab_dy * PX),
                textcoords='offset points', ha='right', va='baseline', fontsize=FS, zorder=5)
    if left:
        for v, s in zip(Y_TICKS, Y_TICKLABELS):
            ax.annotate(s, xy=(0, v), xycoords=('axes fraction', 'data'),
                        xytext=(-18 * PX, -26 * PX), textcoords='offset points',
                        ha='right', va='baseline', fontsize=FS, annotation_clip=False)
        ax.annotate(Y_LABEL, xy=(0, 0.5), xycoords='axes fraction', xytext=(-116 * PX, 0),
                    textcoords='offset points', ha='center', va='center', rotation=90,
                    fontsize=FS, annotation_clip=False)
    if bottom:
        for v, s in zip(X_TICKS, X_TICKLABELS):
            ax.annotate(s, xy=(v, 0), xycoords=('data', 'axes fraction'),
                        xytext=(0, -81 * PX), textcoords='offset points',
                        ha='center', va='baseline', fontsize=FS, annotation_clip=False)
        ax.annotate(X_LABEL, xy=(0.5, 0), xycoords='axes fraction', xytext=(0, -84 * PX),
                    textcoords='offset points', ha='center', va='baseline', fontsize=FS,
                    annotation_clip=False)


fig = plt.figure(figsize=(26.9, 13.69), dpi=100)
W, H = 0.4048, 0.3755
ax_a = fig.add_axes([0.0900, 0.5566, W, H])
ax_b = fig.add_axes([0.5431, 0.5566, W, H])
ax_c = fig.add_axes([0.0900, 0.1213, W, H])
ax_d = fig.add_axes([0.5431, 0.1213, W, H])

draw_lines(ax_a, T_A, A_PHASES, A_COLORS)
draw_lines(ax_b, T_B_MAIN, B_MAIN_PHASES, B_MAIN_COLORS)
draw_lines(ax_b, T_B_FAST, B_FAST_PHASES, B_FAST_COLORS)
draw_lines(ax_c, T_C, C_PHASES, C_COLORS)
draw_lines(ax_d, T_D, D_PHASES, D_COLORS)

style_axes(ax_a, PANEL_LABELS[0], left=True, bottom=False, top_panel=True)
style_axes(ax_b, PANEL_LABELS[1], left=False, bottom=False, top_panel=True)
style_axes(ax_c, PANEL_LABELS[2], left=True, bottom=True, top_panel=False)
style_axes(ax_d, PANEL_LABELS[3], left=False, bottom=True, top_panel=False)

fig.savefig('out.png', dpi=100)
